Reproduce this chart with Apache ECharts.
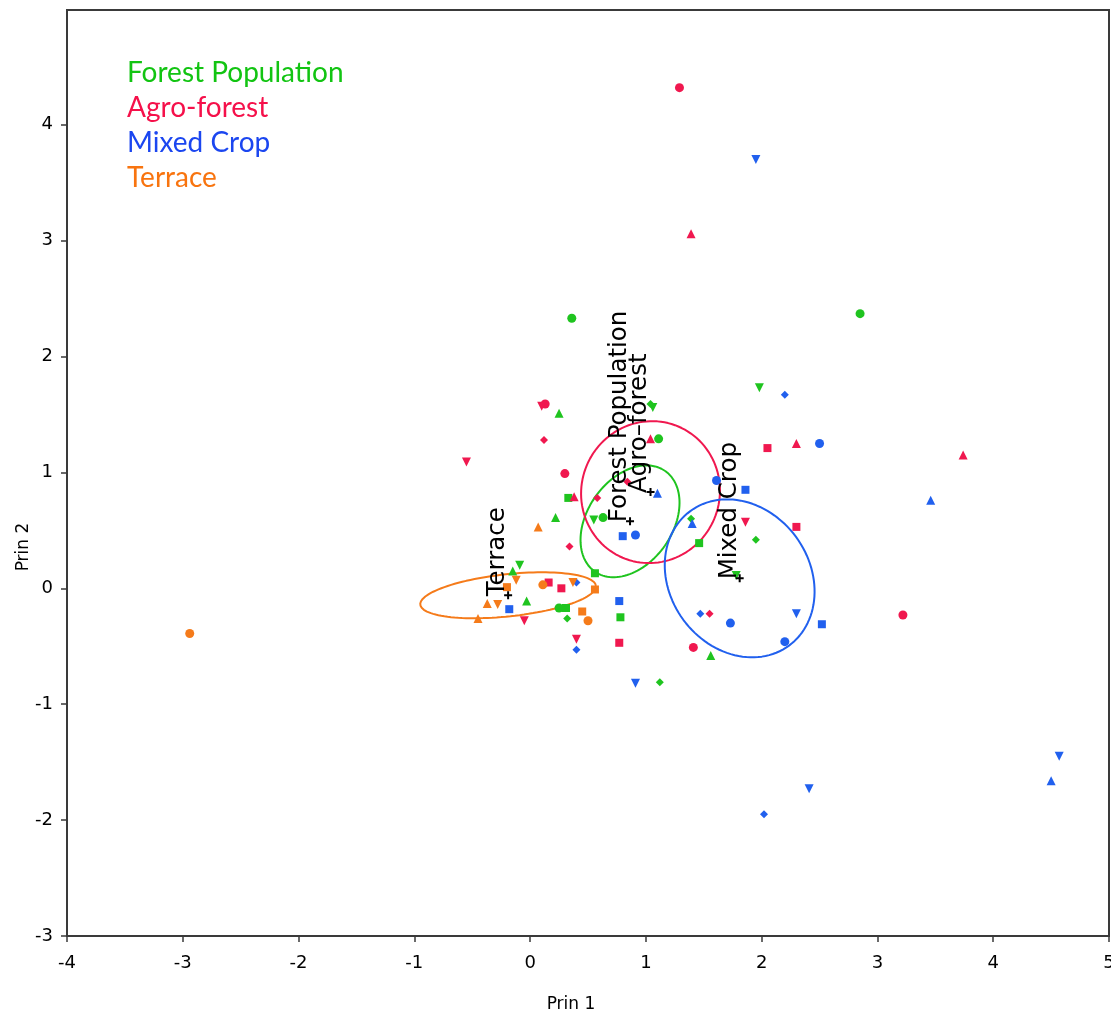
<!DOCTYPE html>
<html>
<head>
<meta charset="utf-8">
<script src="https://cdn.jsdelivr.net/npm/echarts@6/dist/echarts.min.js"></script>
<style>
  html, body { margin: 0; padding: 0; background: #ffffff; }
  #chart { width: 1111px; height: 1015px; }
</style>
</head>
<body>
<div id="chart"></div>
<script>
// Land-use groups and their colours
const groups = ['Forest Population', 'Agro-forest', 'Mixed Crop', 'Terrace'];
const centroidLabels = ['Forest Population', 'Agro\u2013forest', 'Mixed Crop', 'Terrace'];
const groupColors = ['#1fc41f', '#f0184f', '#2160ee', '#f57b1a'];
const legendColors = ['#12c412', '#f5104a', '#1b46f0', '#f8740f'];

// Principal component scores: [Prin 1, Prin 2, site marker]
const forestScores = [
  [0.36, 2.33, 'circle'], [2.85, 2.37, 'circle'], [0.25, 1.51, 'up'],
  [1.06, 1.56, 'down'], [1.04, 1.59, 'diamond'], [1.11, 1.29, 'circle'],
  [0.33, 0.78, 'square'], [0.22, 0.61, 'up'], [0.55, 0.59, 'down'],
  [0.63, 0.61, 'circle'], [1.39, 0.60, 'diamond'], [1.46, 0.39, 'square'],
  [1.98, 1.73, 'down'], [1.95, 0.42, 'diamond'], [1.78, 0.11, 'down'],
  [1.56, -0.58, 'up'], [1.12, -0.81, 'diamond'], [-0.09, 0.20, 'down'],
  [-0.15, 0.15, 'up'], [-0.03, -0.11, 'up'], [0.25, -0.17, 'circle'],
  [0.31, -0.17, 'square'], [0.32, -0.26, 'diamond'], [0.56, 0.13, 'square'],
  [0.78, -0.25, 'square']
];
const agroScores = [
  [1.29, 4.32, 'circle'], [1.39, 3.06, 'up'], [0.13, 1.59, 'circle'],
  [0.10, 1.57, 'down'], [0.12, 1.28, 'diamond'], [-0.55, 1.09, 'down'],
  [0.30, 0.99, 'circle'], [0.38, 0.79, 'up'], [0.58, 0.78, 'diamond'],
  [0.84, 0.92, 'diamond'], [1.04, 1.29, 'up'], [0.34, 0.36, 'diamond'],
  [0.16, 0.05, 'square'], [0.27, 0.00, 'square'], [-0.05, -0.28, 'down'],
  [0.40, -0.44, 'down'], [0.77, -0.47, 'square'], [1.41, -0.51, 'circle'],
  [1.55, -0.22, 'diamond'], [2.05, 1.21, 'square'], [2.30, 1.25, 'up'],
  [1.86, 0.57, 'down'], [2.30, 0.53, 'square'], [3.74, 1.15, 'up'],
  [3.22, -0.23, 'circle']
];
const mixedScores = [
  [1.95, 3.70, 'down'], [2.20, 1.67, 'diamond'], [2.50, 1.25, 'circle'],
  [1.61, 0.93, 'circle'], [1.86, 0.85, 'square'], [1.10, 0.82, 'up'],
  [1.40, 0.56, 'up'], [0.80, 0.45, 'square'], [0.91, 0.46, 'circle'],
  [3.46, 0.76, 'up'], [2.30, -0.22, 'down'], [2.52, -0.31, 'square'],
  [2.20, -0.46, 'circle'], [1.73, -0.30, 'circle'], [1.47, -0.22, 'diamond'],
  [-0.18, -0.18, 'square'], [0.40, 0.05, 'diamond'], [0.40, -0.53, 'diamond'],
  [0.77, -0.11, 'square'], [0.91, -0.82, 'down'], [2.02, -1.95, 'diamond'],
  [2.41, -1.73, 'down'], [4.50, -1.66, 'up'], [4.57, -1.45, 'down']
];
const terraceScores = [
  [-2.94, -0.39, 'circle'], [0.07, 0.53, 'up'], [-0.20, 0.01, 'square'],
  [-0.12, 0.07, 'down'], [0.11, 0.03, 'circle'], [0.37, 0.05, 'down'],
  [0.56, -0.01, 'square'], [-0.37, -0.13, 'up'], [-0.28, -0.14, 'down'],
  [-0.45, -0.26, 'up'], [0.45, -0.20, 'square'], [0.50, -0.28, 'circle']
];

// Group centroids and their confidence ellipses: [semi-major, semi-minor, angle in degrees]
const centroids = [[0.863, 0.578], [1.04, 0.83], [1.81, 0.086], [-0.19, -0.06]];
const ellipseShapes = [[0.53, 0.367, 55], [0.615, 0.597, 67], [0.72, 0.604, -53.7], [0.763, 0.182, 6.1]];

// Axis ticks
const xTicks = [-4, -3, -2, -1, 0, 1, 2, 3, 4, 5];
const yTicks = [-3, -2, -1, 0, 1, 2, 3, 4];

const scoreSets = [forestScores, agroScores, mixedScores, terraceScores];

const markerStyle = {
  circle: { symbol: 'circle', size: 9, rotate: 0 },
  square: { symbol: 'rect', size: 8, rotate: 0 },
  up: { symbol: 'triangle', size: 9, rotate: 0 },
  down: { symbol: 'triangle', size: 9, rotate: 180 },
  diamond: { symbol: 'diamond', size: 8, rotate: 0 }
};

function ellipsePath(center, shape) {
  const [a, b, deg] = shape;
  const t = deg * Math.PI / 180;
  const pts = [];
  for (let i = 0; i <= 120; i++) {
    const u = (i / 120) * 2 * Math.PI;
    const ex = a * Math.cos(u), ey = b * Math.sin(u);
    pts.push([center[0] + ex * Math.cos(t) - ey * Math.sin(t),
              center[1] + ex * Math.sin(t) + ey * Math.cos(t)]);
  }
  return pts;
}

const series = [];
groups.forEach((g, i) => {
  series.push({
    name: g,
    type: 'line',
    data: ellipsePath(centroids[i], ellipseShapes[i]),
    showSymbol: false,
    silent: true,
    smooth: false,
    lineStyle: { color: groupColors[i], width: 2 },
    itemStyle: { color: groupColors[i] },
    z: 2
  });
});
groups.forEach((g, i) => {
  series.push({
    name: g,
    type: 'scatter',
    itemStyle: { color: groupColors[i], opacity: 1 },
    z: 3,
    data: scoreSets[i].map(p => {
      const m = markerStyle[p[2]];
      return { value: [p[0], p[1]], symbol: m.symbol, symbolSize: m.size, symbolRotate: m.rotate };
    })
  });
});
series.push({
  type: 'scatter',
  silent: true,
  z: 4,
  symbol: 'path://M3,0h2v3h3v2h-3v3h-2v-3h-3v-2h3z',
  symbolSize: 8,
  itemStyle: { color: '#000000', opacity: 1 },
  label: {
    show: true,
    formatter: p => p.name,
    rotate: 90,
    position: [6, 5],
    align: 'left',
    verticalAlign: 'bottom',
    color: '#000000',
    fontFamily: 'DejaVu Sans',
    fontSize: 24.5
  },
  data: centroidLabels.map((g, i) => ({ name: g, value: centroids[i] }))
});

const chart = echarts.init(document.getElementById('chart'), null, { renderer: 'canvas' });
chart.setOption({
  animation: false,
  backgroundColor: '#ffffff',
  legend: {
    orient: 'vertical',
    left: 117,
    top: 54,
    itemWidth: 0,
    itemHeight: 0,
    itemGap: 7,
    selectedMode: false,
    textStyle: { fontFamily: 'Lato', fontSize: 28, lineHeight: 27 },
    data: groups.map((g, i) => ({ name: g, icon: 'none', textStyle: { color: legendColors[i] } }))
  },
  grid: {
    left: 67, right: 2, top: 10, bottom: 79,
    outerBoundsMode: 'none',
    containLabel: false,
    show: true, borderColor: '#3a3a3a', borderWidth: 2, backgroundColor: 'transparent'
  },
  xAxis: {
    type: 'value',
    min: xTicks[0], max: xTicks[xTicks.length - 1], interval: 1,
    name: 'Prin 1', nameLocation: 'middle', nameGap: 60,
    nameTextStyle: { fontFamily: 'DejaVu Sans', fontSize: 17, color: '#000', padding: [0, 34, 0, 0] },
    axisLine: { show: true, onZero: false, lineStyle: { color: '#3a3a3a', width: 2 } },
    axisTick: { show: true, length: 6, lineStyle: { color: '#3a3a3a', width: 1.5 } },
    axisLabel: { fontFamily: 'DejaVu Sans', fontSize: 18, color: '#000', margin: 18 },
    splitLine: { show: false }
  },
  yAxis: {
    type: 'value',
    min: yTicks[0], max: 4.99, interval: 1,
    name: 'Prin 2', nameLocation: 'middle', nameGap: 35,
    nameMoveOverlap: false,
    nameTextStyle: { fontFamily: 'DejaVu Sans', fontSize: 17, color: '#000', padding: [0, 148, 0, 0] },
    axisLine: { show: true, onZero: false, lineStyle: { color: '#3a3a3a', width: 2 } },
    axisTick: { show: true, length: 6, lineStyle: { color: '#3a3a3a', width: 1.5 } },
    axisLabel: { fontFamily: 'DejaVu Sans', fontSize: 18, color: '#000', margin: 14, showMaxLabel: false },
    splitLine: { show: false }
  },
  series: series
});
</script>
</body>
</html>
